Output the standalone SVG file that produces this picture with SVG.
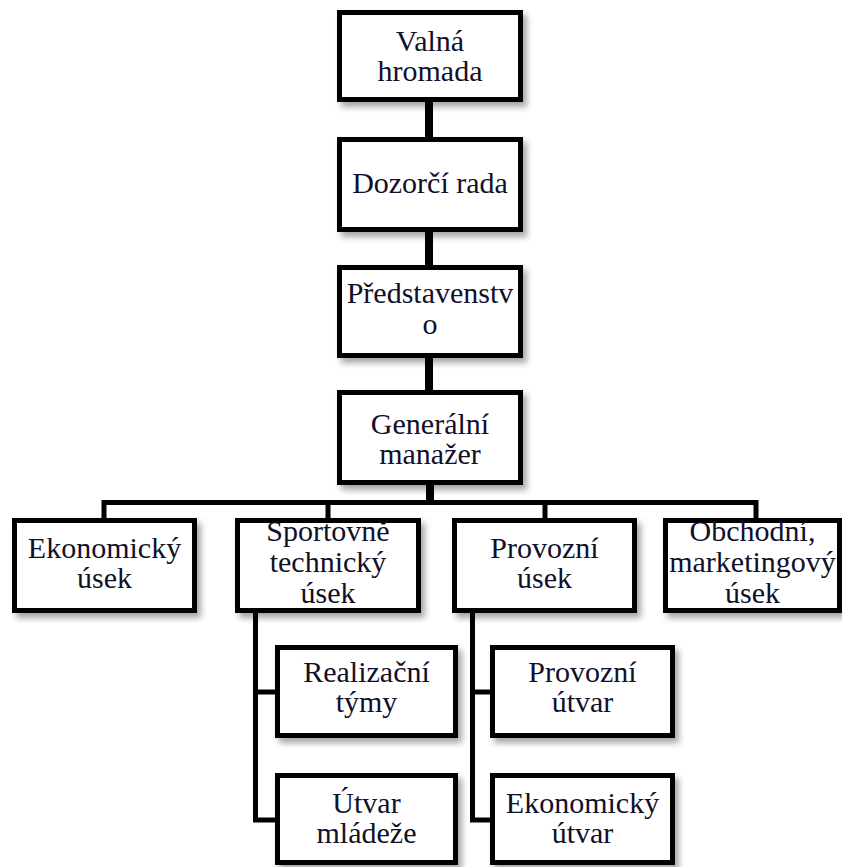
<svg xmlns="http://www.w3.org/2000/svg" width="842" height="867" viewBox="0 0 842 867">
<style>
.box{fill:#ffffff;stroke:#000000;stroke-width:5;filter:url(#sh)}
.t{font-family:'Liberation Serif','Times New Roman',serif;font-size:30px;fill:#10102a;text-anchor:middle}
.thick{stroke:#000000;stroke-width:8;fill:none}
.thin{stroke:#000000;stroke-width:5;fill:none}
</style>
<defs>
<filter id="sh" x="-10%" y="-10%" width="130%" height="130%">
<feDropShadow dx="4" dy="5" stdDeviation="3" flood-color="#000000" flood-opacity="0.35"/>
</filter>
</defs>
<rect width="842" height="867" fill="#ffffff"/>
<g id="connectors">
<line class="thick" x1="429" y1="100" x2="429" y2="140"/>
<line class="thick" x1="429" y1="230" x2="429" y2="268"/>
<line class="thick" x1="429" y1="356" x2="429" y2="393"/>
<line class="thick" x1="430" y1="483" x2="430" y2="505"/>
<polyline class="thin" points="104,520 104,502.5 756,502.5 756,520"/>
<line class="thin" x1="328" y1="502" x2="328" y2="520"/>
<line class="thin" x1="545" y1="502" x2="545" y2="520"/>
<polyline class="thin" points="255.5,611 255.5,820 277,820"/>
<line class="thin" x1="255.5" y1="692" x2="277" y2="692"/>
<polyline class="thin" points="472.5,611 472.5,820 492,820"/>
<line class="thin" x1="472.5" y1="692" x2="492" y2="692"/>
</g>
<g id="valna-hromada">
<rect class="box" x="339.5" y="12.5" width="181" height="87"/>
<text class="t" x="430" y="51">Valná</text>
<text class="t" x="430" y="81">hromada</text>
</g>
<g id="dozorci-rada">
<rect class="box" x="339.5" y="139.5" width="181" height="90"/>
<text class="t" x="430" y="193">Dozorčí rada</text>
</g>
<g id="predstavenstvo">
<rect class="box" x="339.5" y="267.5" width="181" height="88"/>
<text class="t" x="430" y="303">Představenstv</text>
<text class="t" x="430" y="334">o</text>
</g>
<g id="generalni-manazer">
<rect class="box" x="339.5" y="392.5" width="181" height="90"/>
<text class="t" x="430" y="434">Generální</text>
<text class="t" x="430" y="464">manažer</text>
</g>
<g id="ekonomicky-usek">
<rect class="box" x="14.5" y="520.5" width="180" height="90"/>
<text class="t" x="104.5" y="558">Ekonomický</text>
<text class="t" x="104.5" y="588">úsek</text>
</g>
<g id="sportovne-technicky-usek">
<rect class="box" x="237.5" y="520.5" width="181" height="90"/>
<text class="t" x="328" y="541">Sportovně</text>
<text class="t" x="328" y="572">technický</text>
<text class="t" x="328" y="603">úsek</text>
</g>
<g id="provozni-usek">
<rect class="box" x="454.5" y="520.5" width="180" height="90"/>
<text class="t" x="544.5" y="558">Provozní</text>
<text class="t" x="544.5" y="588">úsek</text>
</g>
<g id="obchodni-usek">
<rect class="box" x="665.5" y="520.5" width="174" height="90"/>
<text class="t" x="752.5" y="541">Obchodní,</text>
<text class="t" x="752.5" y="572">marketingový</text>
<text class="t" x="752.5" y="603">úsek</text>
</g>
<g id="realizacni-tymy">
<rect class="box" x="277.5" y="647.5" width="178" height="88"/>
<text class="t" x="366.5" y="682">Realizační</text>
<text class="t" x="366.5" y="712">týmy</text>
</g>
<g id="utvar-mladeze">
<rect class="box" x="277.5" y="775.5" width="178" height="87"/>
<text class="t" x="366.5" y="813">Útvar</text>
<text class="t" x="366.5" y="843">mládeže</text>
</g>
<g id="provozni-utvar">
<rect class="box" x="492.5" y="647.5" width="180" height="88"/>
<text class="t" x="582.5" y="682">Provozní</text>
<text class="t" x="582.5" y="712">útvar</text>
</g>
<g id="ekonomicky-utvar">
<rect class="box" x="492.5" y="775.5" width="180" height="87"/>
<text class="t" x="582.5" y="813">Ekonomický</text>
<text class="t" x="582.5" y="843">útvar</text>
</g>
</svg>
